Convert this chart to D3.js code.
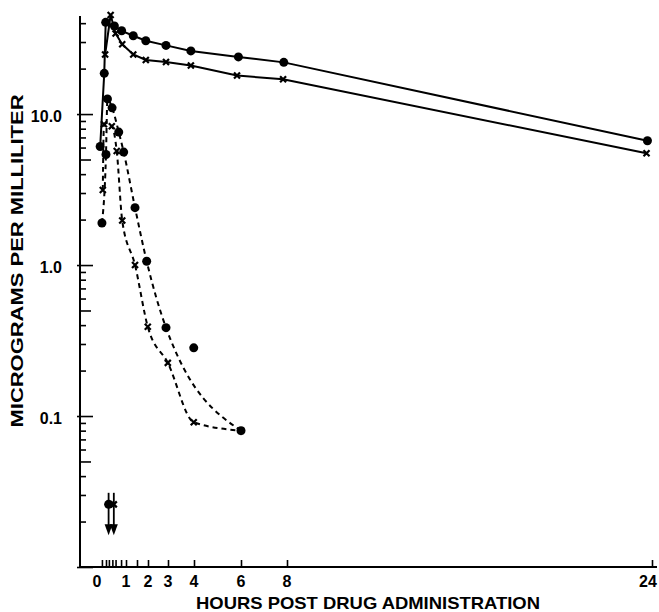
<!DOCTYPE html>
<html>
<head>
<meta charset="utf-8">
<script src="https://cdn.jsdelivr.net/npm/d3@7"></script>
<style>
    body { margin: 0; background: #fff; }
    text { font-family: "Liberation Sans", Arial, sans-serif; font-weight: bold; fill: #000; }
</style>
</head>
<body>
<div id="chart"></div>
<script>
///////////////////////////////////////////////////////////////////////////
/////////////////////////////// The data //////////////////////////////////
///////////////////////////////////////////////////////////////////////////

//solid line, dots
var solidDotHours  = [0.11, 0.25, 0.30, 0.60, 0.85, 1.33, 1.90, 2.90, 3.88, 5.89, 7.86, 23.8];
var solidDotValues = [6.1, 18.6, 40.5, 38.3, 35.6, 33.0, 30.6, 28.5, 26.2, 23.9, 22.0, 6.66];

//solid line, crosses
var solidCrossHours  = [0.28, 0.47, 0.64, 0.87, 1.33, 1.90, 2.90, 3.88, 5.83, 7.83, 23.76];
var solidCrossValues = [24.8, 45.3, 34.2, 29.0, 24.8, 22.8, 22.1, 21.0, 18.0, 17.0, 5.5];

//dashed curve, dots (the 4 hour dot lies off the curve)
var dashedDotHours  = [0.17, 0.31, 0.36, 0.52, 0.75, 0.92, 1.41, 1.94, 2.90, 3.99, 6.0];
var dashedDotValues = [1.9, 5.4, 12.6, 11.0, 7.6, 5.6, 2.4, 1.06, 0.385, 0.283, 0.08];
var dashedDotOffCurve = [3.99];

//dashed curve, crosses
var dashedCrossHours  = [0.20, 0.24, 0.51, 0.68, 0.87, 1.41, 1.99, 2.99, 3.99, 6.0];
var dashedCrossValues = [3.14, 8.55, 8.3, 5.7, 1.97, 1.0, 0.39, 0.225, 0.091, 0.08];

//below the detection limit (arrows)
var belowHours  = [0.40, 0.58];
var belowValues = [0.026, 0.026];
var belowKinds  = ["dot", "cross"];
var arrowFrom = 0.031, arrowTo = 0.0162;

//axes
var xKeyHours  = [0, 1, 2, 3, 4, 6, 8, 24];
var xTickHours = [0.17, 0.31, 0.41, 0.53, 0.64, 0.83, 1, 1.5, 2, 3, 4, 6, 8, 24];
var xLabelHours = [0, 1, 2, 3, 4, 6, 8, 24];
var yLabelValues = [0.1, 1, 10];
var yLabelText   = ["0.1", "1.0", "10.0"];

///////////////////////////////////////////////////////////////////////////
//////////////////// Set up and initiate svg containers ///////////////////
///////////////////////////////////////////////////////////////////////////

var width = 659,
    height = 612;

var svg = d3.select("#chart")
    .append("svg")
    .attr("width", width)
    .attr("height", height);

//the hand drawn time axis is not quite even, so follow it piece by piece
var x = d3.scaleLinear()
    .domain(xKeyHours)
    .range([97, 126, 148, 168, 194, 241, 287, 652]);

var y = d3.scaleLog()
    .domain([0.01, 46])
    .range([567, 14]);

function pts(hours, values) {
    return hours.map(function(h, i) { return [h, values[i]]; });
}

///////////////////////////////////////////////////////////////////////////
//////////////////////////////// Axes /////////////////////////////////////
///////////////////////////////////////////////////////////////////////////

var yAxis = d3.axisLeft(y)
    .tickValues(y.ticks())
    .tickSize(-6)
    .tickFormat("");

var gy = svg.append("g")
    .attr("transform", "translate(80,0)")
    .call(yAxis);
gy.select(".domain").remove();
gy.selectAll(".tick line")
    .attr("x2", function(d) {
        var m = d / Math.pow(10, Math.floor(Math.log10(d) + 1e-9));
        if (Math.abs(m - 1) < 1e-6) return 13;
        if (Math.abs(m - 5) < 1e-6) return 11;
        return 6;
    })
    .attr("x1", function(d) {
        var m = d / Math.pow(10, Math.floor(Math.log10(d) + 1e-9));
        return Math.abs(m - 1) < 1e-6 ? -3 : 0;
    })
    .attr("stroke-width", 1.6);

var xAxis = d3.axisBottom(x)
    .tickValues(xTickHours)
    .tickSizeInner(-7)
    .tickSizeOuter(0)
    .tickFormat("");

var gx = svg.append("g")
    .attr("transform", "translate(0,567)")
    .call(xAxis);
gx.select(".domain").remove();
gx.selectAll(".tick line").attr("stroke-width", 1.6);

//axis lines
svg.append("line")
    .attr("x1", 80).attr("x2", 80)
    .attr("y1", y(46) + 2).attr("y2", y(0.01) + 1)
    .attr("stroke", "#000").attr("stroke-width", 2);
svg.append("line")
    .attr("x1", 79).attr("x2", 657)
    .attr("y1", y(0.01)).attr("y2", y(0.01))
    .attr("stroke", "#000").attr("stroke-width", 2);

//labels
svg.selectAll(".yLabel")
    .data(yLabelValues)
    .enter().append("text")
    .attr("class", "yLabel")
    .attr("x", 62)
    .attr("y", function(d) { return y(d) + 8; })
    .attr("text-anchor", "end")
    .style("font-size", "16px")
    .text(function(d, i) { return yLabelText[i]; });

svg.selectAll(".xLabel")
    .data(xLabelHours)
    .enter().append("text")
    .attr("class", "xLabel")
    .attr("x", function(d) { return d === 24 ? x(d) - 4 : x(d); })
    .attr("y", 587)
    .attr("text-anchor", "middle")
    .style("font-size", "16px")
    .text(function(d) { return d; });

svg.append("text")
    .attr("x", 368)
    .attr("y", 609)
    .attr("text-anchor", "middle")
    .attr("textLength", 344)
    .attr("lengthAdjust", "spacingAndGlyphs")
    .style("font-size", "17px")
    .text("HOURS POST DRUG ADMINISTRATION");

svg.append("text")
    .attr("transform", "translate(23,261) rotate(-90)")
    .attr("text-anchor", "middle")
    .attr("textLength", 333)
    .attr("lengthAdjust", "spacingAndGlyphs")
    .style("font-size", "17px")
    .text("MICROGRAMS PER MILLILITER");

///////////////////////////////////////////////////////////////////////////
//////////////////////////////// Lines ////////////////////////////////////
///////////////////////////////////////////////////////////////////////////

var straight = d3.line()
    .x(function(d) { return x(d[0]); })
    .y(function(d) { return y(d[1]); });

var smooth = d3.line()
    .curve(d3.curveMonotoneX)
    .x(function(d) { return x(d[0]); })
    .y(function(d) { return y(d[1]); });

svg.append("path")
    .datum(pts(solidDotHours, solidDotValues))
    .attr("d", straight)
    .attr("fill", "none").attr("stroke", "#000").attr("stroke-width", 2);

svg.append("path")
    .datum(pts(solidCrossHours, solidCrossValues))
    .attr("d", straight)
    .attr("fill", "none").attr("stroke", "#000").attr("stroke-width", 2);

svg.append("path")
    .datum(pts(dashedDotHours, dashedDotValues).filter(function(d) {
        return dashedDotOffCurve.indexOf(d[0]) < 0;
    }))
    .attr("d", smooth)
    .attr("fill", "none").attr("stroke", "#000").attr("stroke-width", 2)
    .attr("stroke-dasharray", "5,4");

svg.append("path")
    .datum(pts(dashedCrossHours, dashedCrossValues))
    .attr("d", smooth)
    .attr("fill", "none").attr("stroke", "#000").attr("stroke-width", 2)
    .attr("stroke-dasharray", "5,4");

///////////////////////////////////////////////////////////////////////////
/////////////////////////////// Markers ///////////////////////////////////
///////////////////////////////////////////////////////////////////////////

function drawDots(data) {
    svg.append("g").selectAll("circle")
        .data(data)
        .enter().append("circle")
        .attr("cx", function(d) { return x(d[0]); })
        .attr("cy", function(d) { return y(d[1]); })
        .attr("r", 4.5)
        .attr("fill", "#000");
}

function drawCrosses(data) {
    svg.append("g").selectAll("path")
        .data(data)
        .enter().append("path")
        .attr("transform", function(d) { return "translate(" + x(d[0]) + "," + y(d[1]) + ")"; })
        .attr("d", "M-3,-3L3,3M3,-3L-3,3")
        .attr("stroke", "#000")
        .attr("stroke-width", 2.2)
        .attr("fill", "none");
}

drawDots(pts(solidDotHours, solidDotValues));
drawDots(pts(dashedDotHours, dashedDotValues));
drawCrosses(pts(solidCrossHours, solidCrossValues));
drawCrosses(pts(dashedCrossHours, dashedCrossValues));

//arrows for the values under the limit
var arrows = svg.append("g").selectAll("g")
    .data(pts(belowHours, belowValues))
    .enter().append("g");

arrows.append("line")
    .attr("x1", function(d) { return x(d[0]); })
    .attr("x2", function(d) { return x(d[0]); })
    .attr("y1", y(arrowFrom))
    .attr("y2", y(arrowTo) - 8)
    .attr("stroke", "#000").attr("stroke-width", 1.8);

arrows.append("path")
    .attr("transform", function(d) { return "translate(" + x(d[0]) + "," + y(arrowTo) + ")"; })
    .attr("d", "M-4,-11L4,-11L0,0Z")
    .attr("fill", "#000");

drawDots(pts(belowHours, belowValues).filter(function(d, i) { return belowKinds[i] === "dot"; }));
drawCrosses(pts(belowHours, belowValues).filter(function(d, i) { return belowKinds[i] === "cross"; }));
</script>
</body>
</html>
